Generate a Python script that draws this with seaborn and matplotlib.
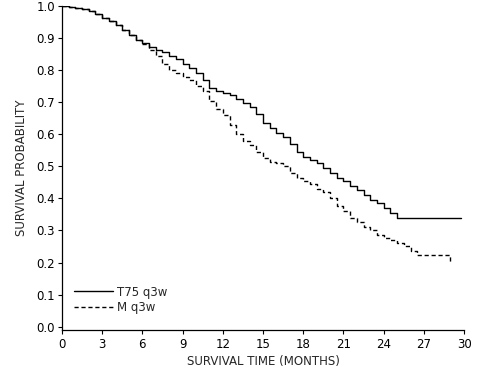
import matplotlib
matplotlib.use("Agg")
import matplotlib.pyplot as plt
import seaborn as sns
import pandas as pd
import numpy as np

# Kaplan-Meier curves (months, survival probability)
t75_time = [0, 0.5, 1, 1.5, 2, 2.5, 3, 3.5, 4, 4.5, 5, 5.5, 6, 6.5, 7, 7.5, 8, 8.5,
            9, 9.5, 10, 10.5, 11, 11.5, 12, 12.5, 13, 13.5, 14, 14.5, 15, 15.5, 16,
            16.5, 17, 17.5, 18, 18.5, 19, 19.5, 20, 20.5, 21, 21.5, 22, 22.5, 23,
            23.5, 24, 24.5, 25, 29.8]
t75_surv = [1.0, 0.998, 0.994, 0.99, 0.985, 0.975, 0.963, 0.952, 0.94, 0.925, 0.91,
            0.895, 0.885, 0.872, 0.862, 0.855, 0.845, 0.835, 0.82, 0.806, 0.79, 0.77,
            0.745, 0.735, 0.728, 0.722, 0.71, 0.697, 0.684, 0.663, 0.635, 0.62, 0.605,
            0.59, 0.57, 0.545, 0.53, 0.52, 0.51, 0.495, 0.48, 0.465, 0.455, 0.44,
            0.425, 0.41, 0.395, 0.385, 0.37, 0.355, 0.34, 0.34]

m_time = [0, 0.5, 1, 1.5, 2, 2.5, 3, 3.5, 4, 4.5, 5, 5.5, 6, 6.5, 7, 7.5, 8, 8.5, 9,
          9.5, 10, 10.5, 11, 11.5, 12, 12.5, 13, 13.5, 14, 14.5, 15, 15.5, 16, 16.5,
          17, 17.5, 18, 18.5, 19, 19.5, 20, 20.5, 21, 21.5, 22, 22.5, 23, 23.5, 24,
          24.5, 25, 25.5, 26, 26.5, 28.9, 28.95]
m_surv = [1.0, 0.998, 0.994, 0.99, 0.985, 0.975, 0.963, 0.952, 0.94, 0.925, 0.91,
          0.895, 0.88, 0.862, 0.845, 0.82, 0.80, 0.79, 0.78, 0.77, 0.75, 0.735, 0.705,
          0.68, 0.66, 0.63, 0.60, 0.578, 0.565, 0.545, 0.525, 0.515, 0.51, 0.50, 0.48,
          0.465, 0.455, 0.445, 0.43, 0.42, 0.40, 0.375, 0.36, 0.34, 0.325, 0.31, 0.30,
          0.285, 0.278, 0.27, 0.26, 0.253, 0.235, 0.225, 0.225, 0.197]

groups = ["T75 q3w", "M q3w"]
x_ticks = np.arange(0, 31, 3)
y_ticks = np.arange(0, 1.01, 0.1)

df = pd.concat([
    pd.DataFrame({"time": t75_time, "surv": t75_surv, "group": groups[0]}),
    pd.DataFrame({"time": m_time, "surv": m_surv, "group": groups[1]}),
])

sns.set_style("white")
plt.rcParams["font.family"] = ["DejaVu Sans"]
fs = 8.5

fig = plt.figure(figsize=(4.8, 3.74), dpi=100)
ax = fig.add_axes([0.129, 0.118, 0.838, 0.866])

sns.lineplot(data=df, x="time", y="surv", hue="group", style="group",
             hue_order=groups, style_order=groups,
             palette=["black", "black"], dashes=[(None, None), (3, 2)],
             drawstyle="steps-post", linewidth=1.0, estimator=None, sort=False, ax=ax)

ax.set_xlim(0, 30)
ax.set_ylim(-0.01, 1.0)
ax.set_xticks(x_ticks)
ax.set_yticks(y_ticks)
ax.set_yticklabels([f"{v:.1f}" for v in y_ticks])
ax.tick_params(direction="out", length=3, width=0.8, labelsize=fs, colors="black",
               bottom=True, left=True)
ax.tick_params(axis="x", pad=2.5)
ax.tick_params(axis="y", pad=2)
for s in ["top", "right"]:
    ax.spines[s].set_visible(False)
for s in ["left", "bottom"]:
    ax.spines[s].set_color("black")
    ax.spines[s].set_linewidth(0.9)

ax.set_xlabel("SURVIVAL TIME (MONTHS)", fontsize=fs, labelpad=3)
ax.set_ylabel("SURVIVAL PROBABILITY", fontsize=fs, labelpad=6)

leg = ax.legend(loc="center left", bbox_to_anchor=(0.03, 0.093), frameon=False,
                fontsize=fs, handlelength=3.3, handletextpad=0.35, labelspacing=0.2,
                borderpad=0, borderaxespad=0)
for line in leg.get_lines():
    line.set_linewidth(1.0)

fig.savefig("out.png", dpi=100)
